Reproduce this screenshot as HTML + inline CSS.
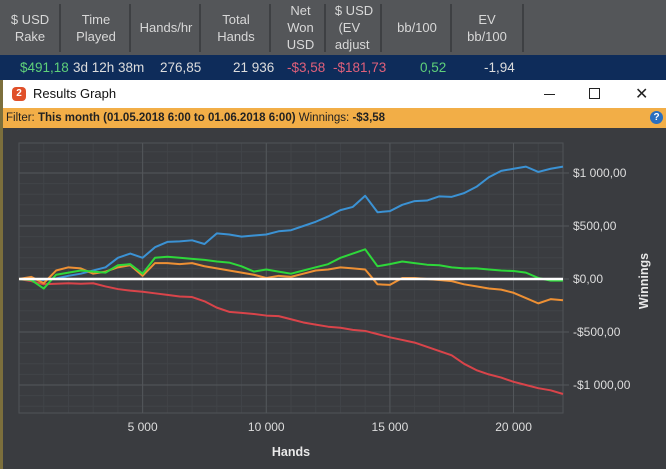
<!DOCTYPE html>
<html><head><meta charset="utf-8"><style>
body{margin:0;width:666px;height:469px;overflow:hidden;background:#3a3c40;font-family:"Liberation Sans",sans-serif;position:relative}
.hdr{position:absolute;left:0;top:0;width:666px;height:55px;background:#545659}
.hc{position:absolute;top:0;height:55px;display:flex;align-items:center;justify-content:center;text-align:center;color:#d8d8d8;font-size:13px;line-height:17px}
.sep{position:absolute;top:4px;width:2px;height:48px;background:#3e4043}
.row{position:absolute;left:0;top:55px;width:666px;height:25px;background:#0e2c5a;font-size:13.5px}
.row span{position:absolute;top:5px}
.title{position:absolute;left:3px;top:80px;width:663px;height:28px;background:#fff;font-size:13px}
.filter{position:absolute;left:3px;top:108px;width:663px;height:20px;background:#f2ae47;font-size:11.5px;line-height:20px;color:#222}
.frame{position:absolute;left:0;top:80px;width:3px;height:389px;background:#7c6f3c}
</style></head><body>
<div class="hdr">
<div class="hc" style="left:0;width:60px">$ USD<br>Rake</div><div class="sep" style="left:59px"></div>
<div class="hc" style="left:62px;width:68px">Time<br>Played</div><div class="sep" style="left:129px"></div>
<div class="hc" style="left:132px;width:68px">Hands/hr</div><div class="sep" style="left:199px"></div>
<div class="hc" style="left:202px;width:68px">Total<br>Hands</div><div class="sep" style="left:269px"></div>
<div class="hc" style="left:272px;width:57px">Net<br>Won<br>USD</div><div class="sep" style="left:324px"></div>
<div class="hc" style="left:326px;width:56px;text-align:left">$ USD<br>&nbsp;(EV<br>adjust</div><div class="sep" style="left:380px"></div>
<div class="hc" style="left:382px;width:70px">bb/100</div><div class="sep" style="left:450px"></div>
<div class="hc" style="left:452px;width:70px">EV<br>bb/100</div><div class="sep" style="left:522px"></div>
</div>
<div class="row">
<span style="left:20px;color:#5fd17a">$491,18</span>
<span style="left:73px;color:#ddd">3d 12h 38m</span>
<span style="left:160px;color:#ddd">276,85</span>
<span style="left:233px;color:#ddd">21 936</span>
<span style="left:287px;color:#e0607a">-$3,58</span>
<span style="left:333px;color:#e0607a">-$181,73</span>
<span style="left:420px;color:#5fd17a">0,52</span>
<span style="left:484px;color:#ddd">-1,94</span>
</div>
<div class="frame"></div>
<div class="title">
<div style="position:absolute;left:9px;top:7px;width:14px;height:14px;border-radius:4px;background:#e0502a;color:#fff;font-size:10px;font-weight:bold;text-align:center;line-height:14px">2</div>
<span style="position:absolute;left:30px;top:6px;color:#111">Results Graph</span>
<div style="position:absolute;left:541px;top:14px;width:11px;height:1px;background:#222"></div>
<div style="position:absolute;left:586px;top:8px;width:9px;height:9px;border:1px solid #222"></div>
<span style="position:absolute;left:632px;top:4px;font-size:16px;color:#222">✕</span>
</div>
<div class="filter">
<span style="margin-left:3px">Filter: <b>This month (01.05.2018 6:00 to 01.06.2018 6:00)</b> Winnings: <b>-$3,58</b></span>
<div style="position:absolute;right:3px;top:3px;width:13px;height:13px;border-radius:50%;background:#2a6fc0;color:#fff;font-size:10px;line-height:13px;text-align:center;font-weight:bold">?</div>
</div>
<svg id="chart" width="666" height="469" style="position:absolute;left:0;top:0"></svg>
<script>
const hands=[];for(let i=0;i<=44;i++)hands.push(i*500);
const blueVals=[0,-5,-10,5,30,50,80,110,200,240,200,300,350,355,365,330,430,420,400,410,420,450,460,500,540,590,650,680,785,630,640,700,735,740,780,775,810,870,960,1020,1040,1060,1010,1040,1060];
const greenVals=[0,-10,-90,40,60,80,70,60,130,140,50,200,210,200,190,180,165,155,120,70,90,70,50,80,110,140,200,240,280,120,140,165,150,135,130,110,100,100,90,80,75,60,10,-15,-15];
const orangeVals=[0,20,-40,80,110,100,50,70,110,130,30,150,150,140,150,120,100,80,60,40,10,30,20,50,80,90,110,100,90,-50,-55,10,10,0,-10,-20,-50,-70,-90,-100,-130,-180,-230,-190,-200];
const redVals=[0,-20,-50,-45,-40,-45,-40,-70,-95,-110,-120,-135,-150,-165,-170,-210,-270,-310,-320,-330,-345,-350,-380,-410,-430,-450,-460,-480,-490,-520,-550,-575,-600,-640,-680,-720,-800,-860,-900,-930,-970,-1000,-1030,-1050,-1085];
const xTicks=[5000,10000,15000,20000];
const xTickLabels=["5 000","10 000","15 000","20 000"];
const yTicks=[1000,500,0,-500,-1000];
const yTickLabels=["$1 000,00","$500,00","$0,00","-$500,00","-$1 000,00"];
const L=19,R=563,T=143,B=413,xMax=22000;
const X=h=>L+h/xMax*(R-L);
const Y=v=>279-v*0.106;
const svg=document.getElementById('chart');const NS='http://www.w3.org/2000/svg';
function mk(t,a){const e=document.createElementNS(NS,t);for(const k in a)e.setAttribute(k,a[k]);svg.appendChild(e);return e;}
for(let h=1000;h<xMax;h+=1000){const g=mk('line',{x1:X(h),x2:X(h),y1:T,y2:B,stroke:'#414448','stroke-width':1});

}
for(let v=-1300;v<=1300;v+=100){const y=Y(v);if(y<T||y>B)continue;const g=mk('line',{x1:L,x2:R,y1:y,y2:y,stroke:'#414448','stroke-width':1});

}
const fr=mk('rect',{x:L,y:T,width:R-L,height:B-T,fill:'none',stroke:'#505357'});


xTicks.forEach((h,i)=>{const g=mk('line',{x1:X(h),x2:X(h),y1:T,y2:B,stroke:'#54575b'});


const t=mk('text',{x:X(h),y:431,fill:'#ddd','font-size':12,'text-anchor':'middle'});t.textContent=xTickLabels[i];

});
yTicks.forEach((v,i)=>{const g=mk('line',{x1:L,x2:R+6,y1:Y(v),y2:Y(v),stroke:'#54575b'});


const t=mk('text',{x:573,y:Y(v)+4,fill:'#ddd','font-size':12});t.textContent=yTickLabels[i];

});
function series(vals,col,name){const p=mk('polyline',{points:vals.map((v,i)=>X(hands[i])+','+Y(v)).join(' '),fill:'none',stroke:col,'stroke-width':2,'stroke-linejoin':'round'});

}
series(redVals,'#d9444a','red-line-series');
series(blueVals,'#3b92d4','blue-line-series');
series(orangeVals,'#ee9034','orange-line-series');
series(greenVals,'#2ed83a','green-line-series');
const z=mk('line',{x1:L,x2:R,y1:Y(0),y2:Y(0),stroke:'#fff','stroke-width':2.5});


const xt=mk('text',{x:291,y:456,fill:'#e8e8e8','font-size':12.5,'font-weight':'bold','text-anchor':'middle'});xt.textContent='Hands';


const yt=mk('text',{x:0,y:0,fill:'#e8e8e8','font-size':12.5,'font-weight':'bold','text-anchor':'middle',transform:'translate(648,281) rotate(-90)'});yt.textContent='Winnings';


</script>
</body></html>
